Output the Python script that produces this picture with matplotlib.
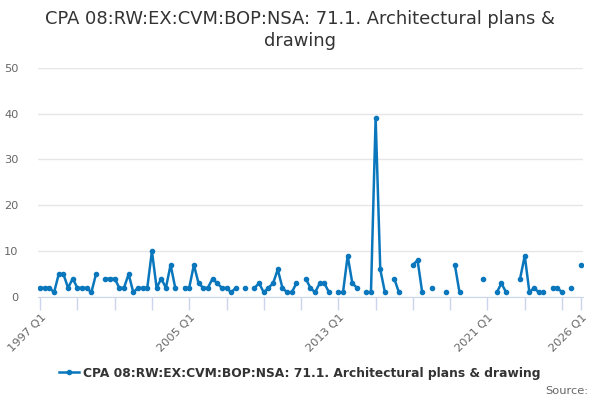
import numpy as np
import matplotlib
matplotlib.use('Agg')
import matplotlib.pyplot as plt
from matplotlib.lines import Line2D

nan = np.nan
# quarterly values, 1997 Q1 .. 2026 Q1 (gaps = missing)
values = [2, 2, 2, 1, 5, 5, 2, 4, 2, 2, 2, 1, 5, nan, 4, 4,
          4, 2, 2, 5, 1, 2, 2, 2, 10, 2, 4, 2, 7, 2, nan, 2,
          2, 7, 3, 2, 2, 4, 3, 2, 2, 1, 2, nan, 2, nan, 2, 3,
          1, 2, 3, 6, 2, 1, 1, 3, nan, 4, 2, 1, 3, 3, 1, nan,
          1, 1, 9, 3, 2, nan, 1, 1, 39, 6, 1, nan, 4, 1, nan, nan,
          7, 8, 1, nan, 2, nan, nan, 1, nan, 7, 1, nan, nan, nan, nan, 4,
          nan, nan, 1, 3, 1, nan, nan, 4, 9, 1, 2, 1, 1, nan, 2, 2,
          1, nan, 2, nan, 7]
start_year = 1997
label_quarters = ['1997 Q1', '2005 Q1', '2013 Q1', '2021 Q1', '2026 Q1']
y_ticks = [0, 10, 20, 30, 40, 50]
series_name = 'CPA 08:RW:EX:CVM:BOP:NSA: 71.1. Architectural plans & drawing'
title = 'CPA 08:RW:EX:CVM:BOP:NSA: 71.1. Architectural plans &\ndrawing'

color = '#0a77bd'
x = np.arange(len(values))
vals = np.array(values, dtype=float)

def q_index(lbl):
    yr, q = lbl.split(' Q')
    return (int(yr) - start_year) * 4 + int(q) - 1

fig = plt.figure(figsize=(6, 4), dpi=100)
ax = fig.add_axes([38 / 600, 1 - 297 / 400, 545 / 600, 229.3 / 400])

ax.plot(x, vals, color=color, lw=1.8, marker='o', ms=3, zorder=3)

ax.set_xlim(-0.45, 116.5)
ax.set_ylim(0, 50)
ax.set_yticks(y_ticks)
ax.grid(axis='y', color='#e6e6e6', lw=1)
ax.set_axisbelow(True)

# tick every two years, labels only on some
ax.set_xticks(list(range(0, len(values), 8)) + [len(values) - 1])
ax.set_xticklabels([''] * len(ax.get_xticks()))
lbl_pos = [q_index(l) for l in label_quarters]
for p, l in zip(lbl_pos, label_quarters):
    ax.text(p + 0.2, -3.4, l, rotation=45, ha='right', va='top',
            rotation_mode='anchor', fontsize=8.2, color='#666666')

for s in ['top', 'right', 'left']:
    ax.spines[s].set_visible(False)
ax.spines['bottom'].set_color('#ccd6eb')
ax.tick_params(axis='x', length=9, color='#ccd6eb', width=1)
ax.tick_params(axis='y', length=0, pad=14, labelsize=8.2, labelcolor='#666666')

fig.suptitle(title, y=0.975, fontsize=12.9, color='#333333', linespacing=1.25)

h = Line2D([], [], color=color, lw=1.8, marker='o', ms=3)
fig.legend([h], [series_name], loc='center', bbox_to_anchor=(0.5, 1 - 373 / 400),
           frameon=False, handlelength=1.6, handletextpad=0.4,
           prop={'weight': 'bold', 'size': 8.8}, labelcolor='#333333')
fig.text(588 / 600, 1 - 391 / 400, 'Source:', ha='right', va='center',
         fontsize=8.2, color='#666666')

fig.savefig('out.png', dpi=100)
